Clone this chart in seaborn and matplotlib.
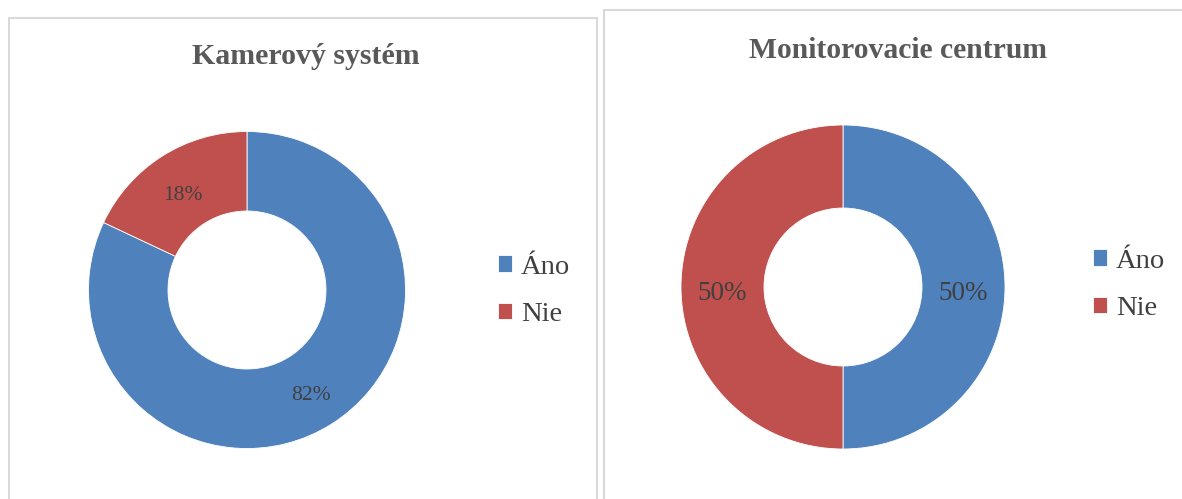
import matplotlib
matplotlib.use("Agg")
import matplotlib.pyplot as plt
import seaborn as sns
from matplotlib.patches import Rectangle

categories = ["Áno", "Nie"]
title_left = "Kamerový systém"
values_left = [82, 18]
title_right = "Monitorovacie centrum"
values_right = [50, 50]

sns.set_theme(style="white")
plt.rcParams['font.family'] = ['Liberation Serif', 'DejaVu Serif']
colors = sns.color_palette(["#4F81BD", "#C0504D"])

W, H = 1182, 499
fig = plt.figure(figsize=(W / 100, H / 100), dpi=100)
fig.patch.set_facecolor("white")

def fx(px):
    return px / W

def fy(py):
    return 1 - py / H

# chart frames
fig.patches.append(Rectangle((fx(8.5), fy(520)), fx(588), (520 - 17.5) / H,
                             transform=fig.transFigure, fill=False,
                             edgecolor="#D9D9D9", linewidth=1.5))
fig.patches.append(Rectangle((fx(604.5), fy(520)), fx(700), (520 - 10.5) / H,
                             transform=fig.transFigure, fill=False,
                             edgecolor="#D9D9D9", linewidth=1.5))

def donut(cx, cy, r, rin, values, pct_size):
    ax = fig.add_axes([fx(cx - r), fy(cy + r), 2 * r / W, 2 * r / H])
    wedges, texts, autotexts = ax.pie(
        values, colors=colors, startangle=90, counterclock=False,
        radius=1, autopct='%1.0f%%', pctdistance=(1 + rin / r) / 2,
        wedgeprops=dict(width=1 - rin / r, edgecolor="white", linewidth=0.6),
        textprops=dict(color="#404040", fontsize=pct_size))
    for t in autotexts:
        t.set_va("center_baseline")
        x, y = t.get_position()
        t.set_position((x, y - 0.02))
    ax.set_xlim(-1, 1)
    ax.set_ylim(-1, 1)
    ax.set_aspect('auto')
    ax.axis('off')
    return wedges

w_left = donut(247, 290, 158.5, 79, values_left, 15.5)
w_right = donut(843, 287, 162, 79, values_right, 19.5)

fig.text(fx(306), fy(56), title_left, ha="center", va="center",
         fontsize=21.5, fontweight="bold", color="#595959")
fig.text(fx(898), fy(50), title_right, ha="center", va="center",
         fontsize=21.3, fontweight="bold", color="#595959")

for wedges, lx, ly in [(w_left, 498, 291), (w_right, 1093, 285)]:
    leg = fig.legend(wedges, categories, loc="center left",
                     bbox_to_anchor=(fx(lx), fy(ly)), frameon=False,
                     fontsize=20.5, handlelength=0.5, handleheight=0.5,
                     handletextpad=0.3, labelspacing=0.8, borderpad=0,
                     borderaxespad=0)
    for t in leg.get_texts():
        t.set_color("#404040")

fig.savefig("out.png", dpi=100, facecolor="white")
